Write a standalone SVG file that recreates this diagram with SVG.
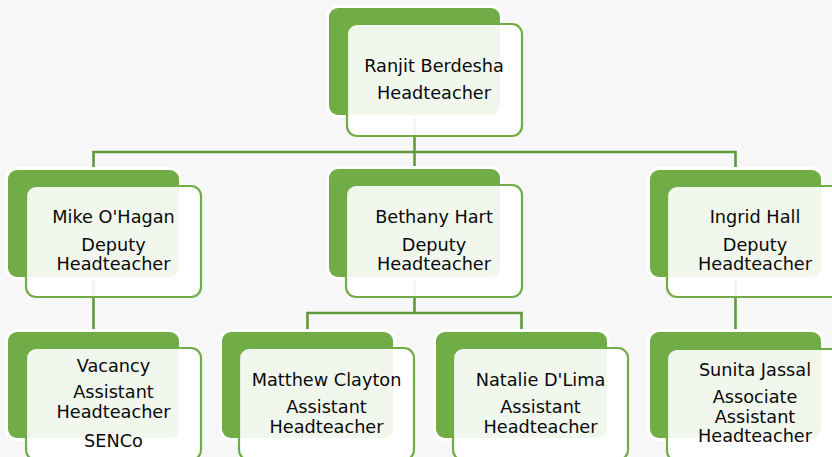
<svg xmlns="http://www.w3.org/2000/svg" width="832" height="457" viewBox="0 0 832 457">
<style>
.bg{fill:#f7f7f7}
.back{fill:#70ad47;stroke:#ffffff;stroke-width:6;paint-order:stroke}
.front{fill:#ffffff;fill-opacity:0.9;stroke:#70ad47;stroke-width:2.2}
.conn{fill:none;stroke:#5f9a3c;stroke-width:2.6}
text{font-family:"DejaVu Sans","Verdana",sans-serif;font-size:17.7px;fill:#0a0a0a;text-anchor:middle}
</style>
<rect class="bg" x="0" y="0" width="832" height="457"/>
<g id="connectors">
<path class="conn" d="M414.5 115V152M93.5 170V152H735.5V170M414.5 152V170"/>
<path class="conn" d="M93.5 277V332"/>
<path class="conn" d="M414.5 277V313M307.5 332V313H521.5V332"/>
<path class="conn" d="M735.5 277V332"/>
</g>
<g id="n-ranjit">
<rect class="back" x="329" y="8" width="171" height="107" rx="9"/>
<rect class="front" x="347" y="24" width="175" height="112" rx="10"/>
<text x="434" y="72">Ranjit Berdesha</text>
<text x="434" y="99">Headteacher</text>
</g>
<g id="n-mike">
<rect class="back" x="8" y="170" width="171" height="107" rx="9"/>
<rect class="front" x="26" y="186" width="175" height="111" rx="10"/>
<text x="113.5" y="223">Mike O'Hagan</text>
<text x="113.5" y="251">Deputy</text>
<text x="113.5" y="270">Headteacher</text>
</g>
<g id="n-bethany">
<rect class="back" x="329" y="169" width="171" height="108" rx="9"/>
<rect class="front" x="346" y="185" width="176" height="112" rx="10"/>
<text x="434" y="223">Bethany Hart</text>
<text x="434" y="251">Deputy</text>
<text x="434" y="270">Headteacher</text>
</g>
<g id="n-ingrid">
<rect class="back" x="650" y="170" width="171" height="107" rx="9"/>
<rect class="front" x="667" y="186" width="176" height="111" rx="10"/>
<text x="755" y="223">Ingrid Hall</text>
<text x="755" y="251">Deputy</text>
<text x="755" y="270">Headteacher</text>
</g>
<g id="n-vacancy">
<rect class="back" x="8" y="332" width="171" height="106" rx="9"/>
<rect class="front" x="26" y="348" width="175" height="112" rx="10"/>
<text x="113.5" y="372">Vacancy</text>
<text x="113.5" y="398">Assistant</text>
<text x="113.5" y="418">Headteacher</text>
<text x="113.5" y="447">SENCo</text>
</g>
<g id="n-matthew">
<rect class="back" x="222" y="332" width="171" height="106" rx="9"/>
<rect class="front" x="239" y="348" width="175" height="112" rx="10"/>
<text x="326.5" y="386">Matthew Clayton</text>
<text x="326.5" y="413">Assistant</text>
<text x="326.5" y="433">Headteacher</text>
</g>
<g id="n-natalie">
<rect class="back" x="436" y="332" width="171" height="106" rx="9"/>
<rect class="front" x="453" y="348" width="175" height="112" rx="10"/>
<text x="540.5" y="386">Natalie D'Lima</text>
<text x="540.5" y="413">Assistant</text>
<text x="540.5" y="433">Headteacher</text>
</g>
<g id="n-sunita">
<rect class="back" x="650" y="332" width="171" height="106" rx="9"/>
<rect class="front" x="667" y="349" width="176" height="112" rx="10"/>
<text x="755" y="376">Sunita Jassal</text>
<text x="755" y="403">Associate</text>
<text x="755" y="423">Assistant</text>
<text x="755" y="442">Headteacher</text>
</g>
</svg>
